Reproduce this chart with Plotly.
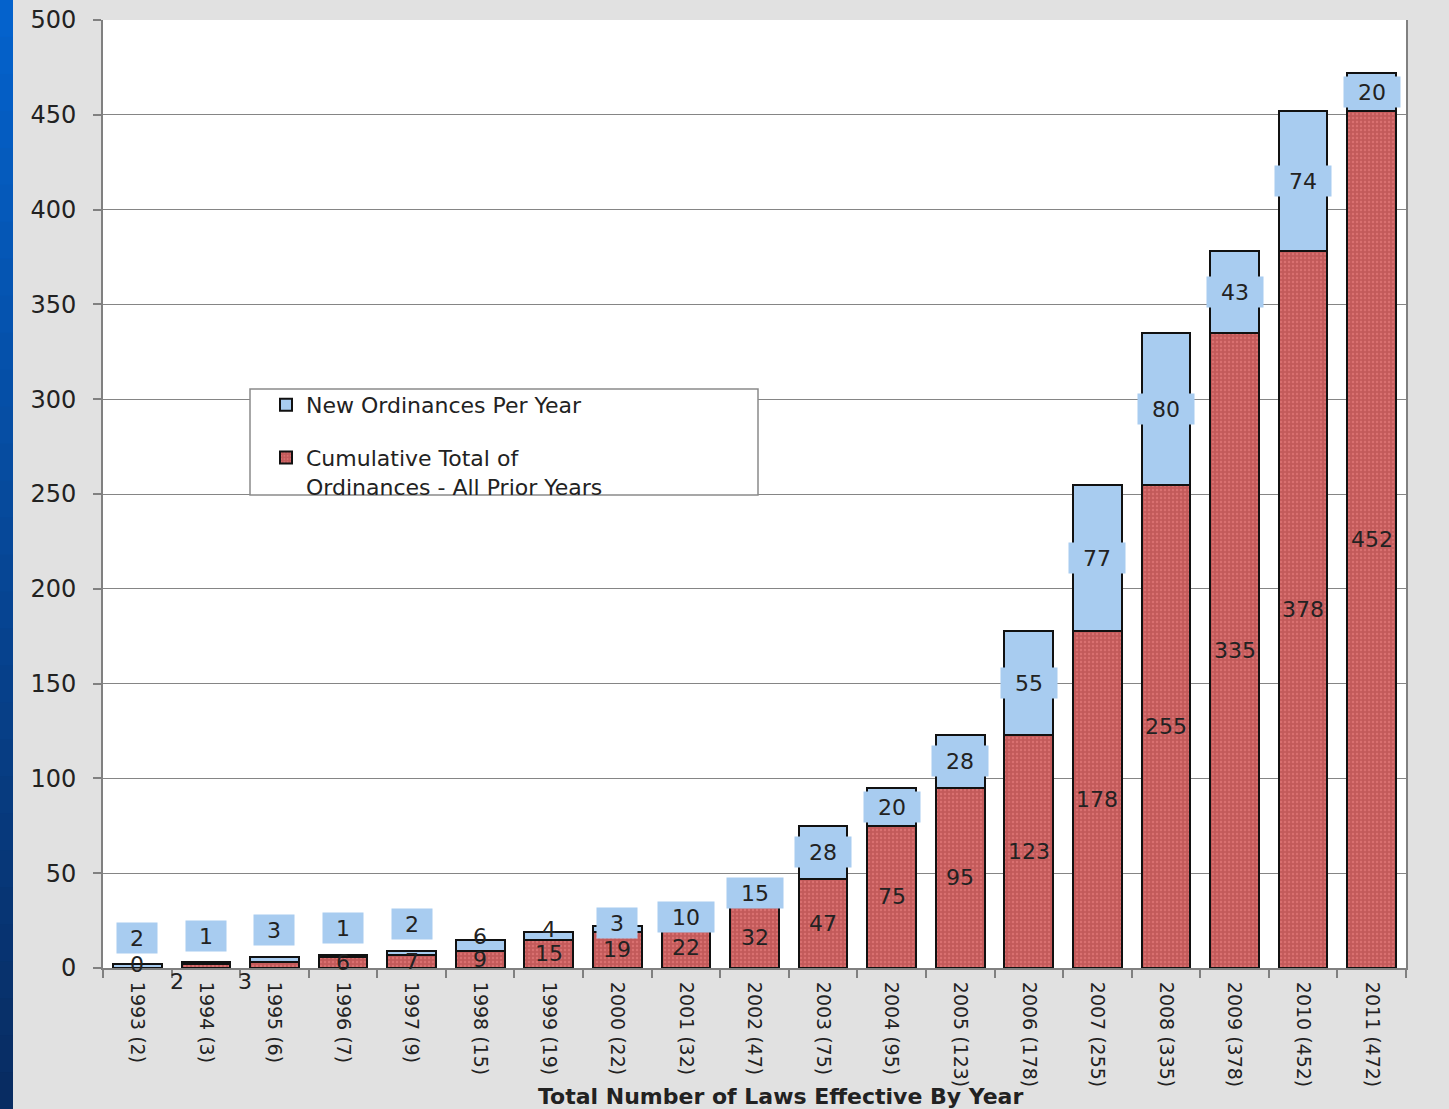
import plotly.graph_objects as go

# ---------------- data ----------------
years = ["1993", "1994", "1995", "1996", "1997", "1998", "1999", "2000", "2001", "2002",
         "2003", "2004", "2005", "2006", "2007", "2008", "2009", "2010", "2011"]
cumulative_prior = [0, 2, 3, 6, 7, 9, 15, 19, 22, 32, 47, 75, 95, 123, 178, 255, 335, 378, 452]
new_per_year = [2, 1, 3, 1, 2, 6, 4, 3, 10, 15, 28, 20, 28, 55, 77, 80, 43, 74, 20]
totals = [c + n for c, n in zip(cumulative_prior, new_per_year)]
categories = [f"{y} ({t})" for y, t in zip(years, totals)]
y_ticks = [0, 50, 100, 150, 200, 250, 300, 350, 400, 450, 500]

FONT = "DejaVu Sans"
RED = "#c25a5a"
RED_DOT = "#ef8585"
BLUE = "#a8ccf0"
TXT = "#222222"

fig = go.Figure()
fig.add_trace(go.Bar(
    x=categories, y=cumulative_prior,
    name="Cumulative Total of<br>Ordinances - All Prior Years",
    legendgroup="cum", legendrank=2,
    marker=dict(color=RED, line=dict(color="#111111", width=2),
                pattern=dict(shape=".", fgcolor=RED_DOT, size=4, solidity=0.3)),
    hoverinfo="x+y",
))
fig.add_trace(go.Bar(
    x=categories, y=new_per_year,
    name="New Ordinances Per Year",
    legendgroup="new", legendrank=1,
    marker=dict(color=BLUE, line=dict(color="#111111", width=2)),
    hoverinfo="x+y",
))

# ---- value labels ----
annotations = []
for i, cat in enumerate(categories):
    c, n, t = cumulative_prior[i], new_per_year[i], totals[i]
    # new-per-year labels (placement mimics the original chart)
    if i < 5:
        ly, boxed = t + 14, True
    elif i == 5:
        ly, boxed = t + 1.5, False
    elif i == 6:
        ly, boxed = t + 1.5, False
    elif i == 7:
        ly, boxed = t + 1.5, True
    else:
        ly, boxed = c + n / 2, True
    a = dict(x=cat, y=ly, xref="x", yref="y", text=str(n), showarrow=False,
             font=dict(family=FONT, size=22, color=TXT), yanchor="middle")
    if boxed:
        a.update(bgcolor=BLUE, borderpad=0, width=16 * len(str(n)) + 24, height=30)
    annotations.append(a)
    # cumulative labels
    ca = dict(x=cat, y=c / 2, xref="x", yref="y", text=str(c), showarrow=False,
              font=dict(family=FONT, size=22, color=TXT), yanchor="middle")
    if i in (1, 2):
        ca.update(y=0, xshift=-29, yshift=-13)
    elif i == 0:
        ca.update(yshift=4)
    annotations.append(ca)

annotations.append(dict(
    x=0.52, y=-0.136, xref="paper", yref="paper", showarrow=False,
    text="<b>Total Number of Laws Effective By Year</b>",
    font=dict(family=FONT, size=22, color=TXT), yanchor="middle",
))

# ---- background decoration: blue strip at left edge, legend box ----
L, R, T, B = 103, 43, 20, 141
FW, FH = 1449, 1109
W, H = FW - L - R, FH - T - B


def py(p):
    return (FH - B - p) / H


def px(p):
    return (p - L) / W


shapes = []
nseg = 30
top_c, bot_c = (4, 98, 204), (8, 44, 98)
for k in range(nseg):
    f = k / (nseg - 1)
    col = tuple(round(top_c[j] + (bot_c[j] - top_c[j]) * f) for j in range(3))
    shapes.append(dict(type="rect", xref="paper", yref="paper",
                       x0=px(0), x1=px(13),
                       y0=py((k + 1) * FH / nseg + 1), y1=py(k * FH / nseg),
                       fillcolor="rgb(%d,%d,%d)" % col, line=dict(width=0), layer="below"))
shapes.append(dict(type="rect", xref="paper", yref="paper",
                   x0=px(250), x1=px(758), y0=py(495), y1=py(389),
                   fillcolor="white", line=dict(color="#8a8a8a", width=1.5), layer="above"))

fig.update_layout(
    width=FW, height=FH,
    margin=dict(l=L, r=R, t=T, b=B, autoexpand=False),
    paper_bgcolor="#e1e1e1",
    plot_bgcolor="white",
    barmode="stack",
    bargap=0.29,
    font=dict(family=FONT, color=TXT),
    showlegend=True,
    legend=dict(
        x=px(266), y=py(384), xanchor="left", yanchor="top",
        bgcolor="rgba(0,0,0,0)", borderwidth=0,
        font=dict(family=FONT, size=22, color=TXT),
        traceorder="grouped", tracegroupgap=21, valign="top",
        itemclick=False,
    ),
    annotations=annotations,
    shapes=shapes,
)
fig.update_xaxes(
    type="category", tickangle=90, tickson="boundaries", automargin=False,
    ticks="outside", ticklen=8, tickwidth=1.5, tickcolor="#808080",
    showline=True, linecolor="#808080", linewidth=2, mirror=False,
    tickfont=dict(family=FONT, size=19, color=TXT), showgrid=False,
    ticklabelstandoff=8,
)
fig.update_yaxes(
    range=[0, 500], tickvals=y_ticks, ticks="outside", ticklen=8, tickwidth=1.5,
    automargin=False,
    tickcolor="#808080", showline=True, linecolor="#808080", linewidth=2, mirror=True,
    showgrid=True, gridcolor="#858585", gridwidth=1.2, zeroline=False,
    tickfont=dict(family=FONT, size=24, color=TXT), ticklabelstandoff=12,
)

fig.write_html("out.html", config={"displayModeBar": False},
               post_script="document.body.style.margin='0px';")
